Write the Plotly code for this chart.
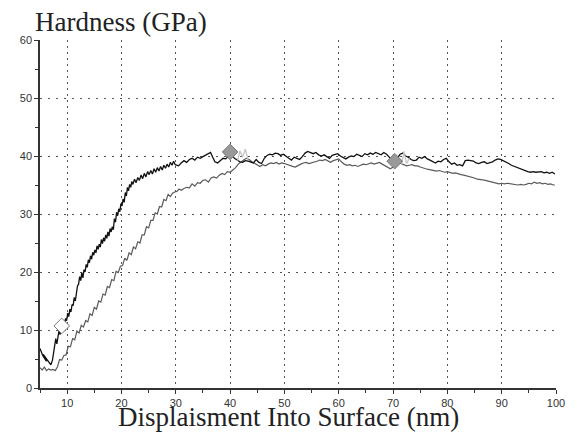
import plotly.graph_objects as go

# ---- data ----
black_x = [5.0,5.2,5.5,5.9,6.2,5.9,5.6,6.1,6.6,7.0,7.3,
           7.5,7.7,7.9,8.1,8.3,8.5,8.7,8.9,9.1,9.3,9.5,9.7,9.9,10.1,10.3,10.5,10.7,10.9,11.1,11.3,11.5,11.7,11.9,12.1,12.3,12.5,12.7,12.9,13.1,13.3,13.5,13.7,13.9,14.1,14.3,14.5,14.7,14.9,15.1,15.3,15.5,15.7,15.9,16.1,16.3,16.5,16.7,16.9,17.1,17.3,17.5,17.7,17.9,18.1,18.3,18.5,18.7,18.9,19.1,19.3,19.5,19.7,19.9,20.1,20.3,20.5,20.7,20.9,21.1,21.3,21.5,21.7,21.9,22.1,
           22.4,22.7,23.0,23.3,23.6,23.9,24.2,24.5,24.8,25.1,25.4,25.7,26.0,26.3,26.6,26.9,27.2,27.5,27.8,28.1,28.4,28.7,29.0,29.3,29.6,29.9,
           30.5,31.0,31.5,32.0,32.5,33.0,33.5,34.0,34.5,35.0,35.5,36.0,36.4,36.8,37.2,37.7,38.2,38.7,39.2,39.7,40.3,40.8,41.3,41.8,42.3,42.8,43.3,43.8,44.3,44.8,45.3,45.8,46.3,46.8,47.3,47.8,48.3,48.8,49.3,49.8,50.3,50.8,51.3,51.8,52.3,52.8,53.3,53.8,54.3,54.8,55.3,55.8,56.3,56.8,57.3,57.8,58.3,58.8,59.3,59.8,60.3,60.8,61.3,61.8,62.3,62.8,63.3,63.8,64.3,64.8,65.3,65.8,66.3,66.8,67.3,67.8,68.3,68.8,69.3,69.8,70.3,70.8,71.3,71.8,72.3,72.8,73.3,73.8,74.3,74.8,75.3,75.8,76.3,76.8,77.3,77.8,78.3,78.8,79.3,79.8,80.3,80.8,81.3,81.8,82.3,82.8,83.3,83.8,84.3,84.8,85.3,85.8,86.3,86.8,87.3,87.8,88.3,88.8,89.3,89.8,90.3,90.8,91.3,91.8,92.3,92.8,93.3,93.8,94.3,94.8,95.3,95.8,96.3,96.8,97.3,97.8,98.3,98.8,99.3,99.8]
black_y = [6.8,6.2,5.6,5.0,4.6,5.4,5.8,5.1,4.4,4.0,4.8,
           6.0,7.4,8.5,7.6,9.0,9.9,9.2,10.6,10.3,11.4,10.8,12.0,11.6,12.9,12.3,13.6,13.1,14.4,14.2,15.6,15.0,16.9,17.6,17.9,19.2,18.5,19.9,19.0,20.4,20.0,21.3,20.8,22.1,21.6,22.8,22.2,23.4,22.9,23.8,23.3,24.5,23.9,24.8,24.3,25.6,24.9,25.9,25.3,26.4,25.8,26.9,26.2,27.5,26.9,27.8,27.3,29.2,28.6,30.3,29.7,30.9,30.4,31.8,31.4,32.6,32.0,33.7,33.1,34.6,34.0,35.1,34.6,35.6,35.1,
           36.0,35.4,36.3,35.8,36.7,36.1,37.0,36.4,37.3,36.8,37.5,36.9,37.8,37.2,38.0,37.4,38.2,37.6,38.4,37.9,38.6,38.1,38.9,38.4,39.1,38.5,
           38.3,38.8,39.2,38.9,39.4,39.6,39.3,39.8,39.6,39.9,40.2,40.4,40.6,39.8,39.0,38.8,39.2,39.6,39.5,40.0,40.3,39.6,39.3,39.0,38.9,39.2,39.1,39.0,38.8,39.4,38.9,38.7,39.6,40.1,40.3,40.2,40.5,40.4,40.1,40.3,39.9,39.6,39.3,39.8,39.6,39.4,39.9,40.5,40.8,40.6,40.4,40.6,40.2,40.0,40.2,39.9,39.6,40.1,40.2,40.4,40.0,39.7,39.5,39.8,40.0,39.9,40.3,40.1,39.9,40.4,40.2,40.5,40.3,40.6,40.4,40.2,40.6,40.3,39.8,39.3,39.0,39.6,40.3,40.5,40.0,39.8,39.4,39.2,39.3,39.8,39.6,39.9,39.5,39.3,39.0,38.8,39.1,39.0,39.4,39.6,39.0,38.6,38.8,38.4,38.5,38.3,39.2,39.3,39.2,39.1,38.8,38.7,38.9,39.0,38.7,38.8,39.0,39.3,39.5,39.4,39.2,39.0,38.7,38.4,38.2,38.0,37.8,37.6,37.4,37.3,37.2,37.3,37.2,37.2,37.3,37.1,37.2,37.0,37.2,36.9]

gray_x = [5.0,5.4,5.8,6.2,6.6,7.0,7.4,7.8,8.2,8.6,9.0,9.4,9.8,10.2,10.6,11.0,11.4,11.8,12.2,12.6,13.0,13.4,13.8,14.2,14.6,15.0,15.4,15.8,16.2,16.6,17.0,17.4,17.8,18.2,18.6,19.0,19.4,19.8,20.2,20.6,21.0,21.4,21.8,22.2,22.6,23.0,23.4,23.8,24.2,24.6,25.0,25.4,25.8,26.2,26.6,27.0,27.4,27.8,28.2,28.6,29.0,29.4,29.8,30.2,30.6,31.0,31.5,32.0,32.5,33.0,33.5,34.0,34.5,35.0,35.5,36.0,36.5,37.0,37.5,38.0,38.5,39.0,39.5,40.0,40.5,41.0,41.5,42.0,42.5,43.0,43.5,44.0,44.5,45.0,45.5,46.0,46.5,47.0,47.5,48.0,48.5,49.0,49.5,50.0,50.5,51.0,51.5,52.0,52.5,53.0,53.5,54.0,54.5,55.0,55.5,56.0,56.5,57.0,57.5,58.0,58.5,59.0,59.5,60.0,60.5,61.0,61.5,62.0,62.5,63.0,63.5,64.0,64.5,65.0,65.5,66.0,66.5,67.0,67.5,68.0,68.5,69.0,69.5,70.0,70.5,71.0,71.5,72.0,72.5,73.0,73.5,74.0,74.5,75.0,75.5,76.0,76.5,77.0,77.5,78.0,78.5,79.0,79.5,80.0,80.5,81.0,81.5,82.0,82.5,83.0,83.5,84.0,84.5,85.0,85.5,86.0,86.5,87.0,87.5,88.0,88.5,89.0,89.5,90.0,90.5,91.0,91.5,92.0,92.5,93.0,93.5,94.0,94.5,95.0,95.5,96.0,96.5,97.0,97.5,98.0,98.5,99.0,99.5,99.8]
gray_y = [3.5,3.1,3.6,3.0,3.3,3.1,3.2,3.0,3.6,4.9,4.8,5.6,5.7,7.2,7.1,8.5,8.3,9.8,9.5,10.8,10.5,11.6,11.4,12.8,12.5,13.9,13.6,15.0,14.8,16.2,16.0,17.5,17.3,18.7,18.5,20.1,19.9,21.0,21.1,22.4,22.0,23.3,23.0,24.3,24.0,25.2,25.0,26.4,26.4,27.8,27.6,28.9,28.9,30.2,30.0,31.3,31.2,32.5,32.3,33.4,33.0,33.6,33.8,33.9,34.3,34.1,34.4,34.6,34.5,35.2,34.8,35.4,35.3,35.8,35.9,35.5,36.2,36.4,36.2,36.7,37.0,36.8,37.3,37.2,37.6,38.0,38.6,39.0,39.3,39.6,39.4,39.0,38.7,38.4,38.2,38.5,38.3,38.6,38.8,38.7,38.9,38.6,38.8,38.7,38.5,38.3,38.2,38.1,38.4,38.6,38.8,38.9,38.7,38.8,39.0,39.1,39.3,39.2,39.4,39.1,38.9,39.2,39.3,39.5,39.0,38.6,38.4,38.5,38.3,38.4,38.2,38.4,38.6,38.5,38.7,38.8,38.6,38.8,38.9,38.6,38.3,38.0,37.8,38.1,38.6,38.9,38.7,38.4,38.3,38.4,38.5,38.3,38.3,38.1,37.9,37.8,37.7,37.6,37.6,37.4,37.5,37.3,37.2,37.3,37.2,37.0,37.1,36.9,36.8,36.7,36.6,36.5,36.3,36.2,36.0,36.0,35.9,35.8,35.7,35.6,35.5,35.3,35.2,35.3,35.2,35.3,35.2,35.2,35.1,35.0,35.1,35.0,35.1,35.3,35.2,35.5,35.3,35.4,35.2,35.3,35.1,35.2,35.0,35.0]

ghost1_x = [41.4, 41.8, 42.3, 42.8, 43.3]
ghost1_y = [39.2, 40.9, 39.8, 41.2, 39.4]
ghost2_x = [71.6, 72.0, 72.5, 73.0]
ghost2_y = [38.6, 40.8, 38.7, 39.6]

marker_x = [9.0, 40.0, 70.3]
marker_y = [10.7, 40.7, 39.1]
marker_fill = ["white", "#999999", "#999999"]

x_ticks = [10, 20, 30, 40, 50, 60, 70, 80, 90, 100]
y_ticks = [0, 10, 20, 30, 40, 50, 60]

SERIF = "Liberation Serif"

fig = go.Figure()
fig.add_trace(go.Scatter(x=gray_x, y=gray_y, mode="lines",
                         line=dict(color="#5a5a5a", width=1.2), hoverinfo="skip"))
fig.add_trace(go.Scatter(x=black_x, y=black_y, mode="lines",
                         line=dict(color="#111111", width=1.3), hoverinfo="skip"))
for gx, gy in [(ghost1_x, ghost1_y), (ghost2_x, ghost2_y)]:
    fig.add_trace(go.Scatter(x=gx, y=gy, mode="lines",
                             line=dict(color="#c4c4c4", width=1.3), hoverinfo="skip"))
fig.add_trace(go.Scatter(x=marker_x, y=marker_y, mode="markers",
                         marker=dict(symbol="diamond", size=12, color=marker_fill,
                                     line=dict(color="#777777", width=1)),
                         hoverinfo="skip"))

axis_common = dict(
    showline=True, linecolor="#333333", linewidth=1.5,
    showgrid=True, gridcolor="#555555", gridwidth=1.2,
    zeroline=False, ticks="outside", ticklen=4, tickcolor="#333333",
    tickfont=dict(family="Liberation Sans", size=11, color="#333333"),
    minor=dict(ticks="outside", ticklen=3, tickcolor="#333333", dtick=5, showgrid=False),
    mirror=False,
)

fig.update_xaxes(range=[5, 100], tickmode="array", tickvals=x_ticks,
                 ticktext=[str(v) for v in x_ticks], griddash="1.5px,4.5px", **axis_common)
fig.update_yaxes(range=[0, 60], tickmode="array", tickvals=y_ticks,
                 ticktext=[str(v) for v in y_ticks], griddash="2px,6px", **axis_common)

# page body has an 8px default margin, so the figure is sized to fill the rest
fig.update_layout(
    width=569, height=426,
    margin=dict(l=27, r=14, t=32, b=46),
    paper_bgcolor="white", plot_bgcolor="white",
    showlegend=False,
    annotations=[
        dict(text="Hardness (GPa)", xref="paper", yref="paper", x=-0.014, y=1.0,
             xanchor="left", yanchor="top", yshift=35, showarrow=False,
             font=dict(family=SERIF, size=27, color="#222222")),
        dict(text="Displaisment Into Surface (nm)", xref="paper", yref="paper", x=0.482, y=0,
             xanchor="center", yanchor="top", yshift=-12, showarrow=False,
             font=dict(family=SERIF, size=27, color="#222222")),
    ],
)

fig.write_html("out.html")
